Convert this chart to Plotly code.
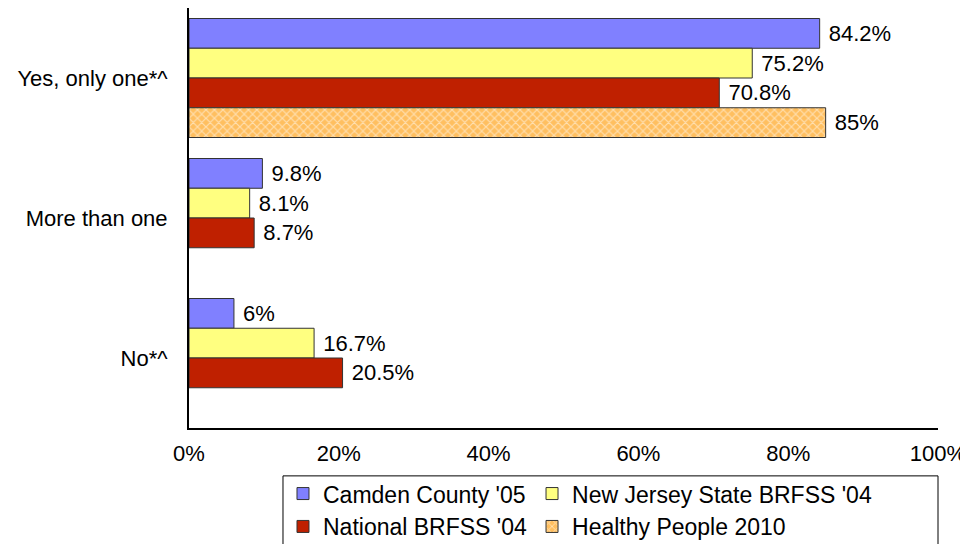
import plotly.graph_objects as go

# answers, top to bottom
categories = ["Yes, only one*^", "More than one", "No*^"]

camden_05 = [84.2, 9.8, 6]
nj_brfss_04 = [75.2, 8.1, 16.7]
national_brfss_04 = [70.8, 8.7, 20.5]
healthy_people_2010 = [85, None, None]

x_ticks = [0, 20, 40, 60, 80, 100]
x_tick_labels = ["0%", "20%", "40%", "60%", "80%", "100%"]

FONT = "Liberation Sans, Arial, sans-serif"


def labels(vals):
    # a non-breaking space pushes the label a bit off the bar end
    return ["\u00a0" + f"{v:g}%" if v is not None else "" for v in vals]


series = [
    ("Camden County '05", camden_05, dict(color="#8080FF"), "left"),
    ("New Jersey State BRFSS '04", nj_brfss_04, dict(color="#FFFF80"), "right"),
    ("National BRFSS '04", national_brfss_04, dict(color="#BF2000"), "left"),
    ("Healthy People 2010", healthy_people_2010,
     dict(color="#FFC060",
          pattern=dict(shape="x", fgcolor="white", bgcolor="#FFBF60",
                       size=6, solidity=0.35)),
     "right"),
]

fig = go.Figure()
for name, vals, marker, col in series:
    fig.add_trace(go.Bar(
        y=categories, x=vals, name=name, orientation="h",
        marker=dict(**marker, line=dict(color="#333333", width=1)),
        text=labels(vals), textposition="outside",
        textfont=dict(family=FONT, size=22, color="black"),
        cliponaxis=False,
        legendgroup=col,
    ))

# the page body has an 8px margin, so the margins below allow for it
fig.update_layout(
    width=968, height=544,
    margin=dict(l=181, r=38, t=0, b=124, autoexpand=False),
    paper_bgcolor="white", plot_bgcolor="white",
    barmode="group", bargap=0.15, bargroupgap=0,
    font=dict(family=FONT, size=22, color="black"),
    legend=dict(
        orientation="h", traceorder="grouped", tracegroupgap=0,
        x=0.1255, xanchor="left", y=-0.105, yanchor="top",
        borderwidth=0, bgcolor="rgba(0,0,0,0)",
        font=dict(family=FONT, size=23, color="black"),
        itemclick=False, itemdoubleclick=False,
    ),
    showlegend=True,
    # legend frame, wider than the entries as in the original
    shapes=[dict(type="rect", xref="paper", yref="paper",
                 x0=0.1255, x1=1.0, y0=-0.114, y1=-0.33,
                 line=dict(color="black", width=1))],
)

fig.update_xaxes(
    range=[0, 100], tickvals=x_ticks, ticktext=x_tick_labels,
    showgrid=False, zeroline=False,
    showline=True, linecolor="black", linewidth=2,
    ticks="", ticklabelstandoff=5,
)
fig.update_yaxes(
    type="category", range=[2.5, -0.5],
    showgrid=False, zeroline=False,
    showline=True, linecolor="black", linewidth=2,
    ticks="", ticklabelstandoff=15,
)

fig.write_html("out.html")
